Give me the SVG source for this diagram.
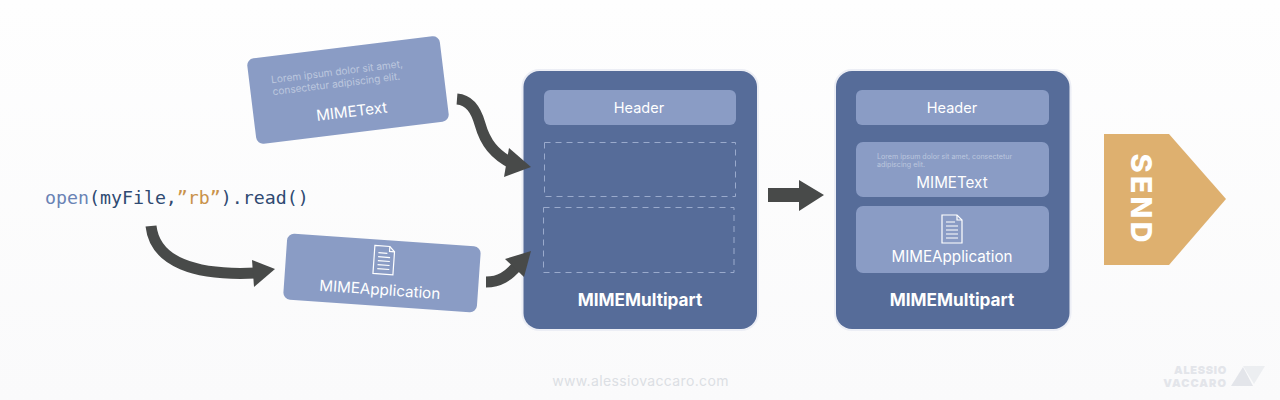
<svg xmlns="http://www.w3.org/2000/svg" width="1280" height="400" viewBox="0 0 1280 400">
<style>
text{font-family:Inter,"Liberation Sans",sans-serif;fill:#fff}
.panel{fill:#566c99;stroke:#eceef5;stroke-width:4;paint-order:stroke}
.card{fill:#8a9cc5}
.label{font-size:15.2px;text-anchor:middle}
.hdr{font-size:14.5px;text-anchor:middle}
.title{font-size:17.2px;font-weight:700;text-anchor:middle}
.lorem{fill:#bcc7de}
.dash{fill:none;stroke:#9aaacc;stroke-width:1;stroke-dasharray:6 5}
.shaft{fill:none;stroke:#484a49}
.head{fill:#484a49}
.doc{fill:none;stroke:#fff;stroke-width:1.2}
.code{font-family:"DejaVu Sans Mono","Liberation Mono",monospace;font-size:18.25px;fill:#2f4a72}
</style>
<defs>
<g id="docicon">
<path class="doc" d="M-10 -14H5L10 -9V14H-10Z"/>
<path class="doc" d="M5 -14V-9H10"/>
<path class="doc" d="M-6 -7H3M-6 -3H6M-6 1H6M-6 5H6M-6 9H6" stroke-width="1"/>
</g>
<linearGradient id="bg" x1="0" y1="0" x2="0" y2="1"><stop offset="0" stop-color="#fefefe"/><stop offset="1" stop-color="#fafafb"/></linearGradient>
</defs>
<rect width="1280" height="400" fill="url(#bg)"/>

<g id="code"><text class="code" x="45" y="204"><tspan fill="#6a83b5">open</tspan>(myFile,<tspan fill="#c9924a">”rb”</tspan>).read()</text></g>

<g id="mimetext-card" transform="rotate(-7 348 90)">
<rect class="card" x="251" y="47" width="194" height="86" rx="7"/>
<text class="lorem" x="273" y="74" font-size="10.1">Lorem ipsum dolor sit amet,</text>
<text class="lorem" x="273" y="86" font-size="10.1">consectetur adipiscing elit.</text>
<text class="label" x="349" y="117">MIMEText</text>
</g>

<g id="mimeapplication-card" transform="rotate(4 382 273)">
<rect class="card" x="285" y="240" width="194" height="66" rx="7"/>
<use href="#docicon" x="383" y="260"/>
<text class="label" x="381" y="295">MIMEApplication</text>
</g>

<g id="multipart-empty">
<rect class="panel" x="523.5" y="71" width="233.5" height="258" rx="16"/>
<rect class="card" x="544" y="90" width="192" height="35" rx="6"/>
<text class="hdr" x="639" y="113">Header</text>
<rect class="dash" x="544.5" y="142.5" width="191" height="54"/>
<rect class="dash" x="543.5" y="207.5" width="190.5" height="65"/>
<text class="title" x="640" y="306">MIMEMultipart</text>
</g>

<g id="multipart-full">
<rect class="panel" x="836" y="71" width="233.5" height="258" rx="16"/>
<rect class="card" x="856" y="90" width="193" height="35" rx="6"/>
<text class="hdr" x="952" y="113">Header</text>
<rect class="card" x="856" y="142" width="193" height="55" rx="7"/>
<text class="lorem" x="877" y="159" font-size="7.1">Lorem ipsum dolor sit amet, consectetur</text>
<text class="lorem" x="877" y="167" font-size="7.1">adipiscing elit.</text>
<text class="label" x="952" y="188">MIMEText</text>
<rect class="card" x="856" y="206" width="193" height="67" rx="7"/>
<use href="#docicon" x="952" y="229"/>
<text class="label" x="952" y="262">MIMEApplication</text>
<text class="title" x="952" y="306">MIMEMultipart</text>
</g>

<g id="send">
<polygon points="1104,134 1169,134 1226,199 1169,265 1104,265" fill="#deb06f"/>
<text x="1141" y="199.5" font-size="29" font-weight="800" text-anchor="middle" dominant-baseline="central" letter-spacing="3" transform="rotate(90 1141 199.5)">SEND</text>
</g>

<g id="footer">
<text x="640.5" y="386" font-size="14" letter-spacing="0.35" text-anchor="middle" style="fill:#dcdfe4">www.alessiovaccaro.com</text>
<text x="1227" y="373.5" font-size="11" font-weight="900" letter-spacing="0.7" text-anchor="end" style="fill:#e3e5ea">ALESSIO</text>
<text x="1227" y="387" font-size="11" font-weight="900" letter-spacing="1" text-anchor="end" style="fill:#e3e5ea">VACCARO</text>
<polygon points="1231,386 1243,367 1253,386" fill="#e3e5ea"/>
<polygon points="1243,366 1265,366 1254,384" fill="#eceef1"/>
</g>

<g id="connectors">
<path class="shaft" stroke-width="11" d="M457 99C470 100 476 110 480 124C485 142 494 155 515 165"/>
<polygon class="head" points="531,167 509,148 504,177"/>
<path class="shaft" stroke-width="11" d="M151 226C155 262 195 276 256 273"/>
<polygon class="head" points="275,269 252,260 254,287"/>
<path class="shaft" stroke-width="11" d="M486 282C500 282 508 276 517 266"/>
<polygon class="head" points="531,251 505,259 524,277"/>
<polygon class="head" points="768,188 799,188 799,180 824,195 799,211 799,202 768,202"/>
</g>
</svg>
